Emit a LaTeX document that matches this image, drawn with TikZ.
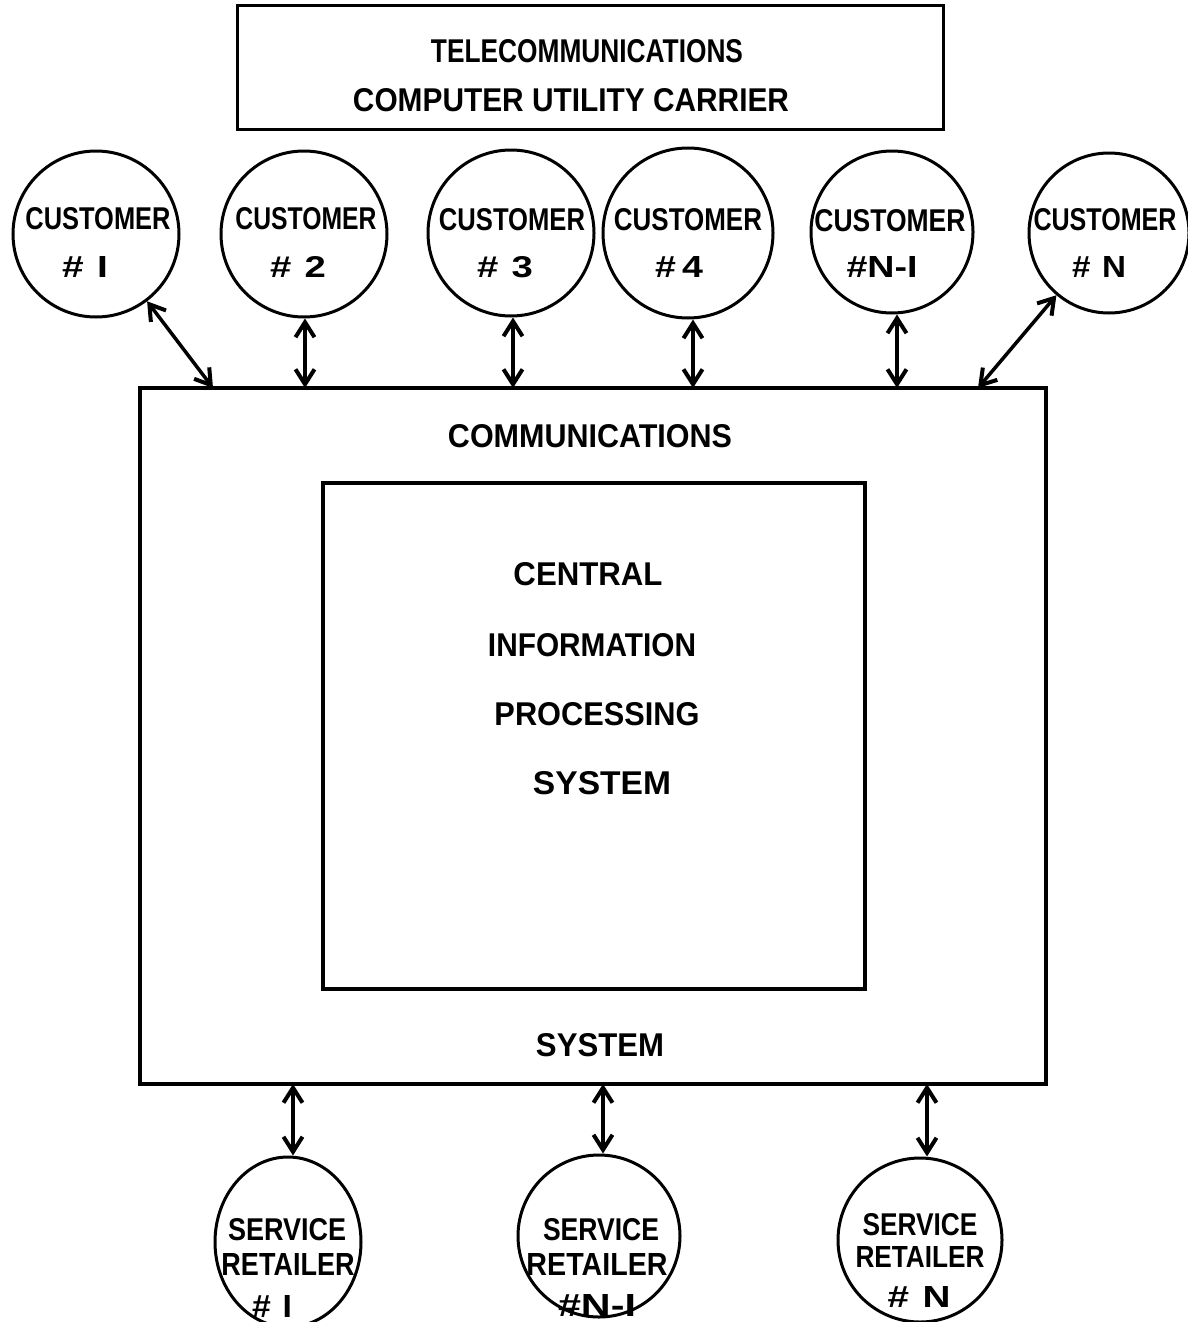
\documentclass[tikz,border=0pt]{standalone}
\usepackage{fontspec}
\setmainfont{Liberation Sans}
\usetikzlibrary{arrows.meta,shapes.geometric}
% text set to an exact width and cap height (in pt)
\newcommand{\fitxt}[3]{\resizebox{#1pt}{#2pt}{\bfseries #3}}
\newcommand{\gap}{\hspace{0.35em}}
\begin{document}
\begin{tikzpicture}[x=1pt,y=-1pt,
  frame/.style={draw, line width=3.5pt, inner sep=0pt},
  unit/.style={circle, draw, line width=3pt, inner sep=0pt},
  lbl/.style={inner sep=0pt},
  >={Straight Barb[length=15pt,width=19pt,line width=4pt]},
  link/.style={line width=3.5pt, <->}
]
\useasboundingbox (0,0) rectangle (1188,1322);

% carrier box
\node[frame, line width=3pt, minimum width=706pt, minimum height=123pt] (carrier) at (590,67.5) {};
\node[lbl] (carrier1) at (587,51) {\fitxt{312}{23}{TELECOMMUNICATIONS}};
\node[lbl] (carrier2) at (571,100) {\fitxt{436}{23}{COMPUTER UTILITY CARRIER}};

% communications system
\node[frame, line width=4pt, minimum width=906pt, minimum height=696pt] (comm) at (593,736) {};
\node[lbl] (commtop) at (590,436) {\fitxt{284}{23}{COMMUNICATIONS}};
\node[lbl] (commbot) at (600,1045) {\fitxt{128}{23}{SYSTEM}};

% central processor
\node[frame, minimum width=542pt, minimum height=506pt] (cips) at (594,736) {};
\node[lbl] (cips1) at (588,574) {\fitxt{149}{23}{CENTRAL}};
\node[lbl] (cips2) at (592,645) {\fitxt{208}{23}{INFORMATION}};
\node[lbl] (cips3) at (597,714) {\fitxt{205}{23}{PROCESSING}};
\node[lbl] (cips4) at (602,783) {\fitxt{138}{23}{SYSTEM}};

% customers
\node[unit, minimum size=166pt] (c1) at (96,234) {};
\node[unit, minimum size=166pt] (c2) at (304,234) {};
\node[unit, minimum size=166pt] (c3) at (511,233) {};
\node[unit, minimum size=170pt] (c4) at (688,233) {};
\node[unit, minimum size=162pt] (c5) at (892,232) {};
\node[unit, minimum size=160pt] (c6) at (1109,233) {};

\node[lbl] (c1a) at (98,219) {\fitxt{145}{22}{CUSTOMER}};
\node[lbl] (c1b) at (85,267) {\fitxt{46}{21}{\#\gap I}};
\node[lbl] (c2a) at (306,219) {\fitxt{141}{22}{CUSTOMER}};
\node[lbl] (c2b) at (298,267) {\fitxt{56}{21}{\#\gap 2}};
\node[lbl] (c3a) at (512,220) {\fitxt{146}{22}{CUSTOMER}};
\node[lbl] (c3b) at (505,267) {\fitxt{56}{21}{\#\gap 3}};
\node[lbl] (c4a) at (688,220) {\fitxt{148}{22}{CUSTOMER}};
\node[lbl] (c4b) at (679,267) {\fitxt{48}{21}{\#\,4}};
\node[lbl] (c5a) at (890,221) {\fitxt{151}{22}{CUSTOMER}};
\node[lbl] (c5b) at (882,267) {\fitxt{71}{21}{\#N-I}};
\node[lbl] (c6a) at (1105,220) {\fitxt{143}{22}{CUSTOMER}};
\node[lbl] (c6b) at (1099,267) {\fitxt{54}{21}{\#\gap N}};

% service retailers
\node[unit, ellipse, minimum width=146pt, minimum height=170pt] (s1) at (288,1242) {};
\node[unit, minimum size=162pt] (s2) at (599,1236) {};
\node[unit, minimum size=164pt] (s3) at (920,1240) {};

\node[lbl] (s1a) at (287,1230) {\fitxt{118}{22}{SERVICE}};
\node[lbl] (s1b) at (288,1264) {\fitxt{133}{22}{RETAILER}};
\node[lbl] (s1c) at (272,1306) {\fitxt{40}{22}{\#\gap I}};
\node[lbl] (s2a) at (601,1230) {\fitxt{116}{22}{SERVICE}};
\node[lbl] (s2b) at (597,1264) {\fitxt{141}{22}{RETAILER}};
\node[lbl] (s2c) at (597,1305) {\fitxt{78}{22}{\#N-I}};
\node[lbl] (s3a) at (920,1225) {\fitxt{115}{22}{SERVICE}};
\node[lbl] (s3b) at (920,1257) {\fitxt{129}{21}{RETAILER}};
\node[lbl] (s3c) at (919,1297) {\fitxt{63}{21}{\#\gap N}};

% connection points on the system box
\coordinate (t1) at (213,388);
\coordinate (t2) at (305,388);
\coordinate (t3) at (513,388);
\coordinate (t4) at (693,388);
\coordinate (t5) at (897,388);
\coordinate (t6) at (978,388);
\coordinate (b1) at (293,1084);
\coordinate (b2) at (603,1084);
\coordinate (b3) at (927,1084);

% links
\draw[link] (c1) -- (t1);
\draw[link] (c2.south -| t2) -- (t2);
\draw[link] (c3.south -| t3) -- (t3);
\draw[link] (c4.south -| t4) -- (t4);
\draw[link] (c5.south -| t5) -- (t5);
\draw[link] (c6) -- (t6);
\draw[link] (b1) -- (s1.north -| b1);
\draw[link] (b2) -- (s2.north -| b2);
\draw[link] (b3) -- (s3.north -| b3);
\end{tikzpicture}
\end{document}
